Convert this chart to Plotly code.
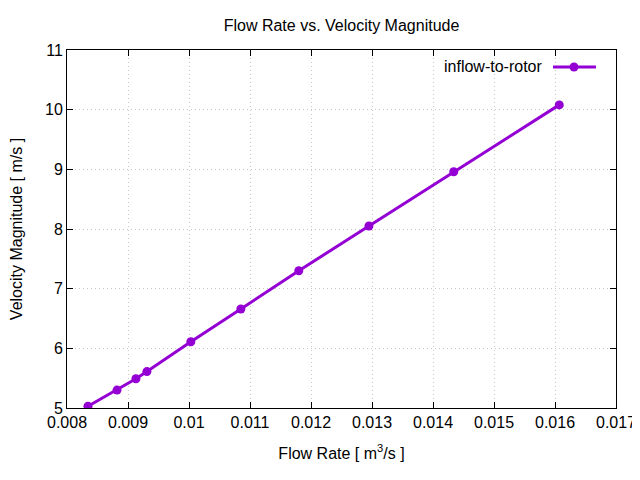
import plotly.graph_objects as go

flow_rate = [0.008344, 0.00882, 0.00913, 0.00931, 0.01003, 0.01085, 0.0118, 0.01295, 0.01434, 0.01607]
velocity = [5.03, 5.30, 5.49, 5.61, 6.11, 6.66, 7.30, 8.05, 8.96, 10.08]
series_name = "inflow-to-rotor"
x_ticks = [0.008, 0.009, 0.01, 0.011, 0.012, 0.013, 0.014, 0.015, 0.016, 0.017]
x_tick_labels = ["0.008", "0.009", "0.01", "0.011", "0.012", "0.013", "0.014", "0.015", "0.016", "0.017"]
y_ticks = [5, 6, 7, 8, 9, 10, 11]

color = "#9400D3"
font = "Liberation Sans, Arial, sans-serif"
fs = 16

fig = go.Figure()
fig.add_trace(go.Scatter(
    x=flow_rate, y=velocity, mode="lines+markers", name=series_name,
    line=dict(color=color, width=3),
    marker=dict(color=color, size=9),
    showlegend=False,
))

axis_common = dict(
    showline=True, linecolor="black", linewidth=1, mirror="ticks",
    ticks="inside", ticklen=6, tickcolor="black", tickwidth=1,
    showgrid=True, gridcolor="#c8c8c8", griddash="1px,3px", gridwidth=1,
    zeroline=False, automargin=False,
    tickfont=dict(family=font, size=fs, color="black"),
)

# page has an 8px body margin, so the figure is 632x472 placed at (8, 8)
W, H = 632, 472
fig.update_layout(
    width=W, height=H,
    margin=dict(l=59, r=24, t=42, b=72),
    paper_bgcolor="white", plot_bgcolor="white",
    font=dict(family=font, size=fs, color="black"),
    title=dict(text="Flow Rate vs. Velocity Magnitude", x=0.5, xref="paper", xanchor="center",
               y=1 - 17 / H, yanchor="middle", yref="container",
               font=dict(family=font, size=fs)),
    xaxis=dict(range=[0.008, 0.017], tickvals=x_ticks, ticktext=x_tick_labels,
               title=dict(text="Flow Rate [ m<sup>3</sup>/s ]", standoff=17,
                          font=dict(family=font, size=fs)),
               **axis_common),
    yaxis=dict(range=[5, 11], tickvals=y_ticks,
               title=dict(text="Velocity Magnitude [ m/s ]", standoff=20,
                          font=dict(family=font, size=fs)),
               **axis_common),
)

# gnuplot-style key: text then sample line with marker
ky = 1 - (67 - 50) / 358
fig.add_annotation(text=series_name, xref="paper", yref="paper",
                   x=(544 - 67) / 549, y=ky, xanchor="right", yanchor="middle",
                   showarrow=False, font=dict(family=font, size=fs, color="black"))
fig.add_shape(type="line", xref="paper", yref="paper",
              x0=(553 - 67) / 549, x1=(596 - 67) / 549, y0=ky, y1=ky,
              line=dict(color=color, width=3))
fig.add_shape(type="circle", xref="paper", yref="paper",
              x0=(569.5 - 67) / 549, x1=(578.5 - 67) / 549,
              y0=1 - (71.5 - 50) / 358, y1=1 - (62.5 - 50) / 358,
              fillcolor=color, line=dict(color=color, width=0))

fig.write_html("out.html")
